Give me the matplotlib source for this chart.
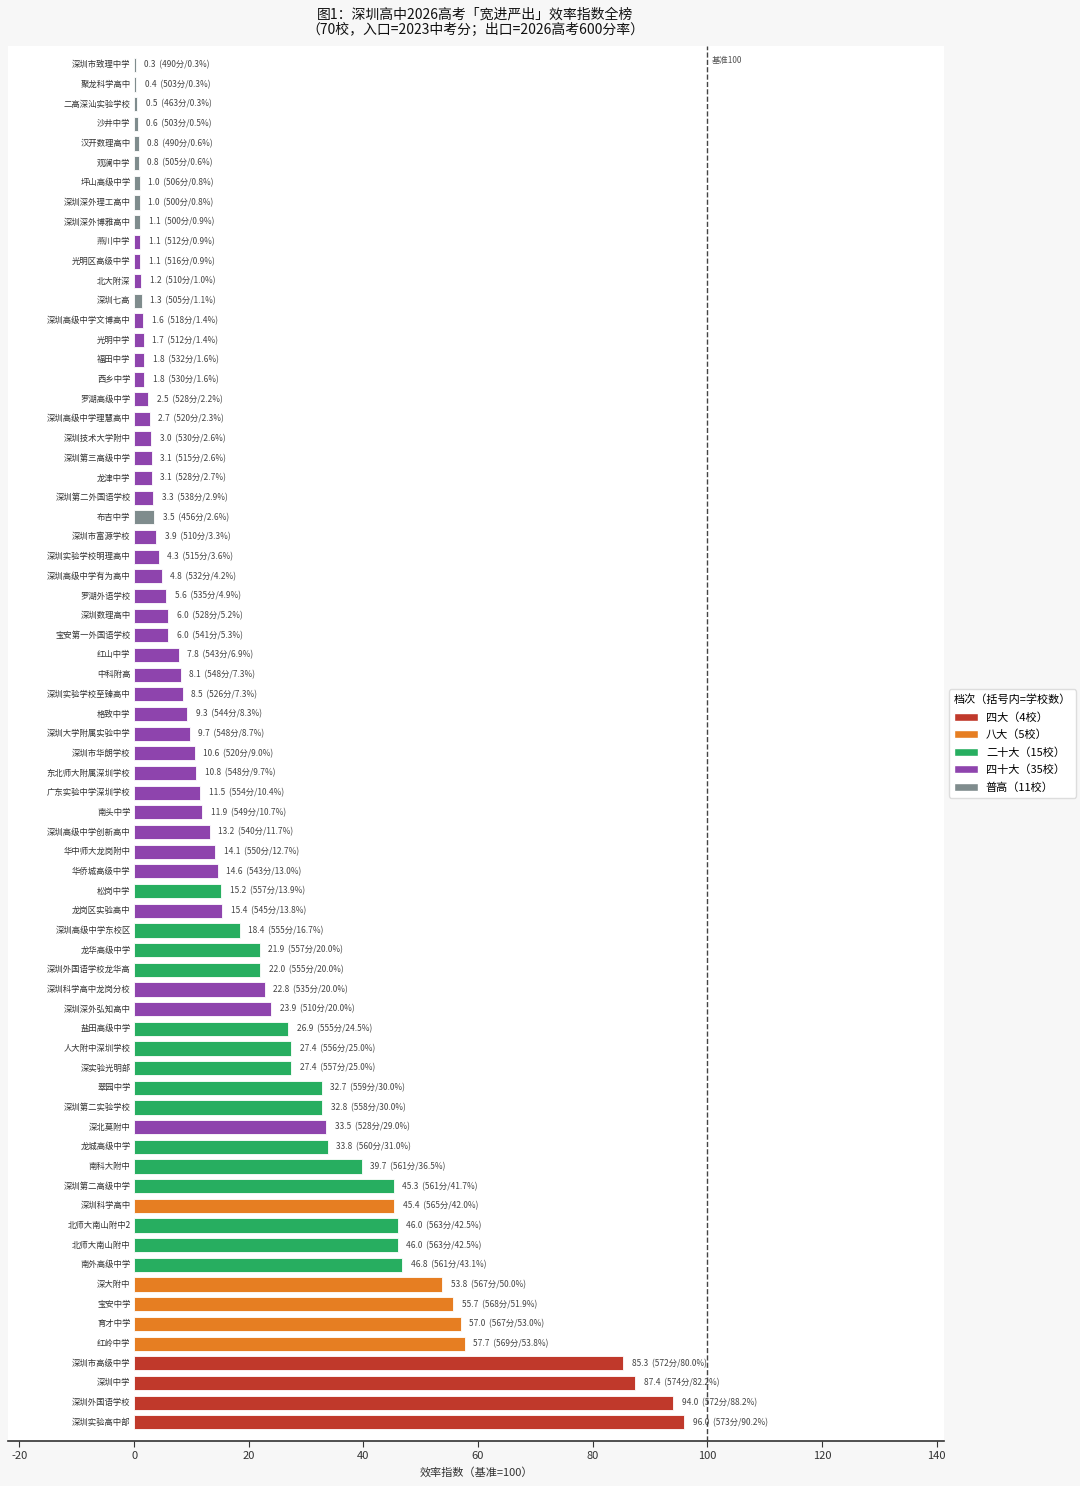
import matplotlib
matplotlib.use("Agg")
import matplotlib.pyplot as plt
from matplotlib.patches import Patch

plt.rcParams['font.family'] = ['Noto Sans CJK SC', 'DejaVu Sans']
plt.rcParams['axes.unicode_minus'] = False

# data, top to bottom
schools = [
    "深圳市致理中学", "聚龙科学高中", "二高深汕实验学校", "沙井中学", "汉开数理高中",
    "观澜中学", "坪山高级中学", "深圳深外理工高中", "深圳深外博雅高中", "燕川中学",
    "光明区高级中学", "北大附深", "深圳七高", "深圳高级中学文博高中", "光明中学",
    "福田中学", "西乡中学", "罗湖高级中学", "深圳高级中学理慧高中", "深圳技术大学附中",
    "深圳第三高级中学", "龙津中学", "深圳第二外国语学校", "布吉中学", "深圳市富源学校",
    "深圳实验学校明理高中", "深圳高级中学有为高中", "罗湖外语学校", "深圳数理高中", "宝安第一外国语学校",
    "红山中学", "中科附高", "深圳实验学校至臻高中", "格致中学", "深圳大学附属实验中学",
    "深圳市华朗学校", "东北师大附属深圳学校", "广东实验中学深圳学校", "南头中学", "深圳高级中学创新高中",
    "华中师大龙岗附中", "华侨城高级中学", "松岗中学", "龙岗区实验高中", "深圳高级中学东校区",
    "龙华高级中学", "深圳外国语学校龙华高", "深圳科学高中龙岗分校", "深圳深外弘知高中", "盐田高级中学",
    "人大附中深圳学校", "深实验光明部", "翠园中学", "深圳第二实验学校", "深北莫附中",
    "龙城高级中学", "南科大附中", "深圳第二高级中学", "深圳科学高中", "北师大南山附中2",
    "北师大南山附中", "南外高级中学", "深大附中", "宝安中学", "育才中学",
    "红岭中学", "深圳市高级中学", "深圳中学", "深圳外国语学校", "深圳实验高中部",
]
index = [
    0.3, 0.4, 0.5, 0.6, 0.8, 0.8, 1.0, 1.0, 1.1, 1.1,
    1.1, 1.2, 1.3, 1.6, 1.7, 1.8, 1.8, 2.5, 2.7, 3.0,
    3.1, 3.1, 3.3, 3.5, 3.9, 4.3, 4.8, 5.6, 6.0, 6.0,
    7.8, 8.1, 8.5, 9.3, 9.7, 10.6, 10.8, 11.5, 11.9, 13.2,
    14.1, 14.6, 15.2, 15.4, 18.4, 21.9, 22.0, 22.8, 23.9, 26.9,
    27.4, 27.4, 32.7, 32.8, 33.5, 33.8, 39.7, 45.3, 45.4, 46.0,
    46.0, 46.8, 53.8, 55.7, 57.0, 57.7, 85.3, 87.4, 94.0, 96.0,
]
entry_score = [
    490, 503, 463, 503, 490, 505, 506, 500, 500, 512,
    516, 510, 505, 518, 512, 532, 530, 528, 520, 530,
    515, 528, 538, 456, 510, 515, 532, 535, 528, 541,
    543, 548, 526, 544, 548, 520, 548, 554, 549, 540,
    550, 543, 557, 545, 555, 557, 555, 535, 510, 555,
    556, 557, 559, 558, 528, 560, 561, 561, 565, 563,
    563, 561, 567, 568, 567, 569, 572, 574, 572, 573,
]
rate600 = [
    0.3, 0.3, 0.3, 0.5, 0.6, 0.6, 0.8, 0.8, 0.9, 0.9,
    0.9, 1.0, 1.1, 1.4, 1.4, 1.6, 1.6, 2.2, 2.3, 2.6,
    2.6, 2.7, 2.9, 2.6, 3.3, 3.6, 4.2, 4.9, 5.2, 5.3,
    6.9, 7.3, 7.3, 8.3, 8.7, 9.0, 9.7, 10.4, 10.7, 11.7,
    12.7, 13.0, 13.9, 13.8, 16.7, 20.0, 20.0, 20.0, 20.0, 24.5,
    25.0, 25.0, 30.0, 30.0, 29.0, 31.0, 36.5, 41.7, 42.0, 42.5,
    42.5, 43.1, 50.0, 51.9, 53.0, 53.8, 80.0, 82.2, 88.2, 90.2,
]
# tier codes: R=四大, O=八大, G=二十大, P=四十大, N=普高
tier = list(
    "NNNNNNNNNP"
    "PPNPPPPPPP"
    "PPPNPPPPPP"
    "PPPPPPPPPP"
    "PPGPGGGPPG"
    "GGGGPGGGOG"
    "GGOOOORRRR"
)

tier_names = {"R": "四大", "O": "八大", "G": "二十大", "P": "四十大", "N": "普高"}
tier_colors = {"R": "#c0392b", "O": "#e67e22", "G": "#27ae60", "P": "#8e44ad", "N": "#7f8c8d"}
tier_order = ["R", "O", "G", "P", "N"]

fig = plt.figure(figsize=(10.8, 14.86), dpi=100, facecolor="#f7f7f7")
ax = fig.add_axes([0.0074, 0.0303, 0.8667, 0.9387])
ax.set_facecolor("white")

ypos = list(range(len(schools)))
ax.barh(ypos, index, height=0.72, color=[tier_colors[t] for t in tier],
        edgecolor="white", linewidth=0.6, zorder=2)

for y, name, v, s, r in zip(ypos, schools, index, entry_score, rate600):
    ax.text(-0.6, y, name, ha="right", va="center", fontsize=6, color="#333333")
    ax.text(v + 1.5, y, f"{v:.1f}  ({s}分/{r:.1f}%)", ha="left", va="center",
            fontsize=6, color="#444444")

ax.axvline(100, color="#444444", linestyle="--", linewidth=1.0, zorder=3)
ax.text(100.7, -0.2, "基准100", ha="left", va="center", fontsize=6, color="#555555")

ax.set_xlim(-22, 141.3)
ax.set_ylim(69.95, -0.95)
ax.set_yticks([])
ax.set_xticks(range(-20, 141, 20))
ax.tick_params(axis="x", labelsize=8, colors="#333333", length=4)
for side in ["top", "right", "left"]:
    ax.spines[side].set_visible(False)
ax.spines["bottom"].set_color("#333333")
ax.spines["bottom"].set_linewidth(1.2)
ax.set_xlabel("效率指数（基准=100）", fontsize=8, color="#333333", labelpad=4)

fig.suptitle("图1：深圳高中2026高考「宽进严出」效率指数全榜\n（70校，入口=2023中考分；出口=2026高考600分率）",
             x=0.44, y=0.995, fontsize=10, color="#111111", linespacing=1.1)

handles = []
for t in tier_order:
    handles.append(Patch(facecolor=tier_colors[t], edgecolor="white",
                         label=f"{tier_names[t]}（{tier.count(t)}校）"))
leg = ax.legend(handles=handles, title="档次（括号内=学校数）", loc="center left",
                bbox_to_anchor=(0.999, 0.5), fontsize=8, title_fontsize=8,
                handlelength=2.2, handleheight=0.7, labelspacing=0.62,
                borderpad=0.45, handletextpad=0.7,
                frameon=True, framealpha=1)
leg.get_frame().set_edgecolor("#dddddd")
leg._legend_box.align = "left"

fig.savefig("out.png", dpi=100, facecolor=fig.get_facecolor())
